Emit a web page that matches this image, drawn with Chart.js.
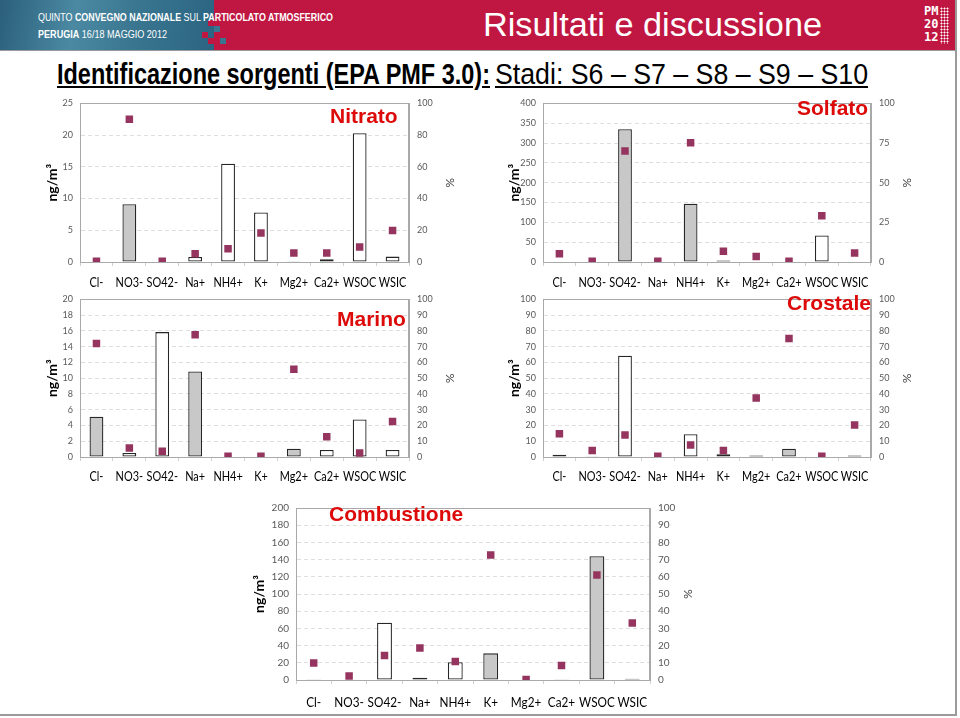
<!DOCTYPE html>
<html><head><meta charset="utf-8">
<script src="https://cdn.jsdelivr.net/npm/chart.js@4.4.1/dist/chart.umd.min.js"></script>
<style>
html,body{margin:0;padding:0}
body{width:960px;height:718px;position:relative;overflow:hidden;background:#fff;font-family:'Liberation Sans',Arial,sans-serif}
.abs{position:absolute;white-space:nowrap}
.fit{transform-origin:0 0}
#hdrL{left:0;top:0;width:214px;height:50px;background:linear-gradient(100deg,#2b5f7b 0%,#4b89a2 35%,#3a7690 62%,#2a6482 100%)}
#hdrR{left:214px;top:0;width:742px;height:50px;background:#bf1741}
.sq{position:absolute;width:6px;height:6px}
.htxt{color:#fff;font-family:'Liberation Sans Narrow','Liberation Sans',sans-serif;font-size:11px;line-height:11px}
.ctitle{color:#dd0a0a;font-weight:bold;font-size:21px;line-height:21px;font-family:'Liberation Sans',Arial,sans-serif}
canvas{position:absolute}
</style></head>
<body>
<div id="hdrL" class="abs"></div>
<div id="hdrR" class="abs"></div>
<div class="sq" style="left:208px;top:20px;background:#bf1741"></div>
<div class="sq" style="left:202px;top:32px;background:#bf1741"></div>
<div class="sq" style="left:214px;top:26px;background:#3a7690"></div>
<div class="sq" style="left:220px;top:38px;background:#3a7690"></div>
<div class="sq" style="left:208px;top:38px;background:#bf1741"></div>
<div class="abs" style="left:0;top:50px;width:956px;height:1px;background:#9a9a9a"></div>
<div class="abs" style="left:955px;top:0;width:2px;height:716px;background:#9a9a9a"></div>
<div class="abs" style="left:0;top:714px;width:957px;height:2px;background:#9a9a9a"></div>

<div class="abs htxt fit" data-w="295" style="left:38px;top:12px">QUINTO <b>CONVEGNO NAZIONALE</b> SUL <b>PARTICOLATO ATMOSFERICO</b></div>
<div class="abs htxt fit" data-w="129" style="left:38px;top:29px"><b>PERUGIA</b> 16/18 MAGGIO 2012</div>
<div class="abs fit" data-w="339" style="left:483px;top:7px;color:#fff;font-size:34px;line-height:34px">Risultati e discussione</div>
<div class="abs" style="left:924px;top:5px;color:#fff;font-family:'DejaVu Sans Mono',monospace;font-weight:bold;font-size:12px;line-height:13px">PM<br>20<br>12</div>
<div class="abs" style="left:940px;top:7px;width:9px;height:37px;background:radial-gradient(circle,#fff 0.8px,transparent 1.2px) 0 0/3px 3px"></div>

<div class="abs fit" data-w="433" style="left:57px;top:60px;font-family:'Liberation Sans Narrow','Liberation Sans',sans-serif;font-weight:bold;font-size:29px;line-height:29px;text-decoration:underline;color:#000">Identificazione sorgenti (EPA PMF 3.0):</div>
<div class="abs fit" data-w="373" style="left:495px;top:60px;font-family:'Liberation Sans Narrow','Liberation Sans',sans-serif;font-size:29px;line-height:29px;text-decoration:underline;color:#000">Stadi: S6 – S7 – S8 – S9 – S10</div>

<canvas id="c1" width="421" height="205" style="left:40px;top:90px"></canvas>
<canvas id="c2" width="416" height="205" style="left:502px;top:90px"></canvas>
<canvas id="c3" width="421" height="205" style="left:40px;top:286px"></canvas>
<canvas id="c4" width="416" height="205" style="left:502px;top:286px"></canvas>
<canvas id="c5" width="452" height="221" style="left:247px;top:494px"></canvas>

<div class="abs ctitle" style="left:330px;top:105px">Nitrato</div>
<div class="abs ctitle" style="left:797px;top:97px">Solfato</div>
<div class="abs ctitle" style="left:337px;top:308px">Marino</div>
<div class="abs ctitle" style="left:787px;top:292px">Crostale</div>
<div class="abs ctitle" style="left:329px;top:503px">Combustione</div>

<script>
// ---- data ----
const species = ['Cl-','NO3-','SO42-','Na+','NH4+','K+','Mg2+','Ca2+','WSOC','WSIC'];

const nitratoConc = [0, 9.1, 0, 0.8, 15.5, 7.8, 0.1, 0.45, 20.3, 0.85];
const nitratoPct  = [0.5, 90, 0.5, 5.2, 8.4, 18.3, 5.6, 5.6, 9.4, 19.8];

const solfatoConc = [0, 0, 335, 0, 147, 4, 0, 0, 67, 0];
const solfatoPct  = [5.2, 0.5, 70, 0.5, 75.2, 6.8, 3.4, 0.5, 29.2, 5.7];

const marinoConc = [5.1, 0.5, 15.85, 10.85, 0, 0, 1.05, 0.9, 4.75, 0.9];
const marinoPct  = [72, 5.7, 3.7, 77.6, 0.4, 0.4, 55.7, 12.8, 2.5, 22.6];

const crostaleConc = [1.5, 0.5, 64.3, 0, 14.5, 1.8, 0.9, 5.3, 0, 0.9];
const crostalePct  = [14.8, 4.1, 14, 0.4, 7.6, 4.1, 37.4, 75.2, 0.4, 20.3];

const combustioneConc = [0.8, 0, 66.5, 2.7, 20.6, 31, 0, 0.8, 144, 1.5];
const combustionePct  = [9.9, 2.3, 14.2, 18.6, 10.7, 72.7, 0.3, 8.4, 61.1, 33.1];

// species drawn with grey bars (others white)
const nitratoGrey = ['NO3-','Mg2+'];
const solfatoGrey = ['SO42-','NH4+','K+'];
const marinoGrey = ['Cl-','Na+','Mg2+'];
const crostaleGrey = ['Cl-','NO3-','Mg2+','Ca2+','WSIC'];
const combustioneGrey = ['Cl-','Na+','K+','Ca2+','WSOC','WSIC'];

// axis ranges: [max, step]
const nitratoLeft = [25, 5],  nitratoRight = [100, 20];
const solfatoLeft = [400, 50], solfatoRight = [100, 25];
const marinoLeft = [20, 2],   marinoRight = [100, 10];
const crostaleLeft = [100, 10], crostaleRight = [100, 10];
const combustioneLeft = [200, 20], combustioneRight = [100, 10];

// ---- drawing ----
const frame = {
  id: 'frame',
  beforeDatasetsDraw(c) {
    const a = c.chartArea, x = c.ctx;
    x.save(); x.strokeStyle = '#a9a9a9'; x.lineWidth = 1;
    x.strokeRect(Math.round(a.left) + 0.5, Math.round(a.top) + 0.5,
                 Math.round(a.right - a.left) - 1, Math.round(a.bottom - a.top));
    x.restore();
  }
};

// category labels, drawn slightly condensed (Calibri-like width)
const catLabels = {
  id: 'catLabels',
  afterDraw(c, args, o) {
    const xs = c.scales.x, ctx = c.ctx;
    ctx.save();
    ctx.font = o.size + 'px Lato';
    ctx.fillStyle = '#000';
    ctx.textAlign = 'center';
    ctx.textBaseline = 'middle';
    c.data.labels.forEach((lab, i) => {
      const px = xs.getPixelForTick(i);
      ctx.save();
      ctx.translate(px, c.chartArea.bottom + o.dy);
      ctx.scale(o.sx, 1);
      ctx.fillText(lab, 0, 0);
      ctx.restore();
    });
    ctx.restore();
  }
};

function build(id, conc, pct, grey, left, right, L) {
  return new Chart(document.getElementById(id), {
    type: 'bar',
    data: {
      labels: species,
      datasets: [
        { type: 'line', data: pct, yAxisID: 'y2', showLine: false,
          pointStyle: 'rect', pointRadius: 5.3, pointHoverRadius: 5.3,
          pointBackgroundColor: '#95355f', pointBorderColor: '#95355f', pointBorderWidth: 0 },
        { type: 'bar', data: conc, yAxisID: 'y',
          backgroundColor: species.map(s => grey.includes(s) ? '#c8c8c8' : '#ffffff'),
          borderColor: '#262626', borderWidth: 1.3, borderSkipped: false,
          barPercentage: 0.42, categoryPercentage: 1 }
      ]
    },
    options: {
      responsive: false, animation: false, devicePixelRatio: 1,
      events: [],
      plugins: { legend: { display: false }, tooltip: { enabled: false },
                 catLabels: { size: L.xfont, dy: L.xdy, sx: L.sx } },
      layout: { padding: { top: L.padTop, bottom: 0, left: 0, right: 0 } },
      scales: {
        x: {
          offset: true,
          grid: { display: true, drawOnChartArea: false, drawTicks: true, tickLength: 4, offset: true, color: '#d0d0d0' },
          border: { display: true, color: '#a9a9a9' },
          ticks: { display: false, autoSkip: false, maxRotation: 0, minRotation: 0 },
          afterFit: s => { s.height = L.xh; }
        },
        y: {
          position: 'left', min: 0, max: left[0],
          ticks: { stepSize: left[1], padding: 7, color: '#595959', font: { family: 'Lato', size: L.tfont } },
          grid: { color: '#dedede', drawTicks: false },
          border: { display: true, color: '#a9a9a9', dash: [4, 3] },
          title: { display: true, text: 'ng/m³', color: '#000', padding: { top: 4, bottom: 4 },
                   font: { family: 'Lato', size: 14, weight: 'bold' } },
          afterFit: s => { s.width = L.lw; }
        },
        y2: {
          position: 'right', min: 0, max: right[0],
          ticks: { stepSize: right[1], padding: 8, color: '#595959', font: { family: 'Lato', size: L.tfont } },
          grid: { display: false, drawTicks: false },
          border: { display: true, color: '#a9a9a9' },
          title: { display: true, text: '%', color: '#404040', padding: { top: 4, bottom: 4 },
                   font: { family: 'Lato', size: 12 } },
          afterFit: s => { s.width = L.rw; }
        }
      }
    },
    plugins: [frame, catLabels]
  });
}

const topL = { padTop: 9, xh: 33, xdy: 21, xfont: 13, sx: 0.84, tfont: 9, lw: 40, rw: 52 };
const topR = { padTop: 9, xh: 33, xdy: 21, xfont: 13, sx: 0.84, tfont: 9, lw: 41, rw: 47 };
const midL = { padTop: 9, xh: 34, xdy: 20, xfont: 13, sx: 0.84, tfont: 9, lw: 40, rw: 52 };
const midR = { padTop: 9, xh: 34, xdy: 20, xfont: 13, sx: 0.84, tfont: 9, lw: 41, rw: 47 };
const bot  = { padTop: 11, xh: 35, xdy: 22, xfont: 14, sx: 0.84, tfont: 10, lw: 49, rw: 49 };

build('c1', nitratoConc, nitratoPct, nitratoGrey, nitratoLeft, nitratoRight, topL);
build('c2', solfatoConc, solfatoPct, solfatoGrey, solfatoLeft, solfatoRight, topR);
build('c3', marinoConc, marinoPct, marinoGrey, marinoLeft, marinoRight, midL);
build('c4', crostaleConc, crostalePct, crostaleGrey, crostaleLeft, crostaleRight, midR);
build('c5', combustioneConc, combustionePct, combustioneGrey, combustioneLeft, combustioneRight, bot);

// fit header texts to their measured widths
function fitAll() {
  document.querySelectorAll('.fit').forEach(el => {
    el.style.transform = 'none';
    const w = el.getBoundingClientRect().width;
    const t = +el.dataset.w;
    if (w > 0) el.style.transform = 'scaleX(' + (t / w) + ')';
  });
}
fitAll();
if (document.fonts && document.fonts.ready) document.fonts.ready.then(fitAll);
</script>
</body></html>
